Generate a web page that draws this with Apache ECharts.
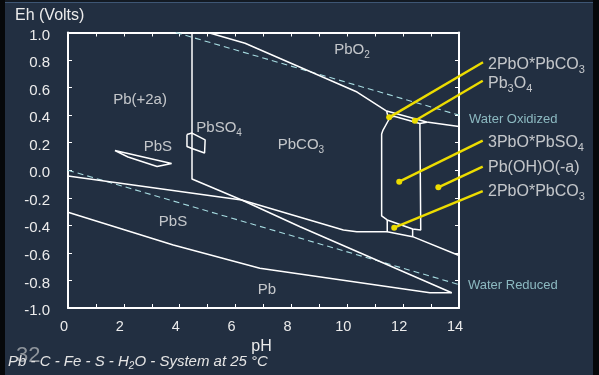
<!DOCTYPE html>
<html><head><meta charset="utf-8">
<script src="https://cdn.jsdelivr.net/npm/echarts@6/dist/echarts.min.js"></script>
<style>html,body{margin:0;padding:0;background:#222f41;}#c{width:599px;height:375px;}</style>
</head><body><div id="c"></div>
<script>
// ---- data (pH, Eh in volts) ----
const waterOxidized = [[3.86, 1.0], [14, 0.40]];
const waterReduced = [[0, 0.0], [14, -0.83]];
const boundaryPbO2 = [[5.01, 1.0], [6.34, 0.922], [10.35, 0.568], [11.41, 0.430]];
const boundaryTop = [[11.41, 0.430], [12.84, 0.350], [14, 0.318]];
const boundaryStub = [[11.41, 0.430], [11.47, 0.377]];
const boundaryPb3O4 = [[11.47, 0.377], [11.67, 0.392], [12.60, 0.339], [12.85, 0.348]];
const boundaryBox = [[11.53, 0.383], [11.28, 0.292], [11.23, 0.263], [11.23, -0.332], [11.43, -0.361], [12.34, -0.427], [12.63, -0.434], [12.60, 0.339]];
const boundaryBoxLow = [[11.43, -0.361], [11.43, -0.446], [12.34, -0.482], [14, -0.619]];
const boundaryBoxLowR = [[12.34, -0.427], [12.34, -0.482]];
const boundaryUpperPbS = [[0, -0.042], [6.22, -0.216], [9.86, -0.434], [10.34, -0.446], [11.43, -0.446]];
const boundaryCarbonate = [[4.44, 1.0], [4.44, -0.064], [6.22, -0.216], [8.31, -0.41], [13.74, -0.889]];
const boundaryPb = [[0, -0.305], [3.77, -0.543], [6.87, -0.712], [12.96, -0.889], [13.74, -0.889]];
const pbsSliver = [[1.68, 0.143], [3.71, 0.049], [3.19, 0.027], [2.15, 0.096], [1.68, 0.143]];
const pbso4Box = [[4.26, 0.260], [4.44, 0.270], [4.91, 0.220], [4.89, 0.125], [4.44, 0.158], [4.26, 0.172], [4.26, 0.260]];

const pointerFrom = [[14.86, 0.784], [14.85, 0.650], [14.85, 0.215], [14.85, 0.026], [14.85, -0.151]];
const pointerTo = [[11.50, 0.384], [12.42, 0.360], [11.86, -0.083], [13.26, -0.124], [11.68, -0.417]];

const fieldNames = ['PbO{s|2}', 'Pb(+2a)', 'PbSO{s|4}', 'PbS', 'PbCO{s|3}', 'PbS', 'Pb'];
const fieldPos = [[10.17, 0.873], [2.58, 0.51], [5.41, 0.307], [3.22, 0.169], [8.34, 0.183], [3.76, -0.376], [7.12, -0.869]];
const calloutNames = ['2PbO*PbCO{s|3}', 'Pb{s|3}O{s|4}', '3PbO*PbSO{s|4}', 'Pb(OH)O(-a)', '2PbO*PbCO{s|3}'];
const calloutPos = [[15.04, 0.764], [15.04, 0.626], [15.04, 0.198], [15.04, 0.016], [15.04, -0.158]];
const waterNames = ['Water Oxidized', 'Water Reduced'];
const waterPos = [[14.36, 0.372], [14.32, -0.833]];

const xMin = 0, xMax = 14, xStep = 1;
const yMin = -1, yMax = 1, yStep = 0.2;
const axisTitleY = 'Eh (Volts)';
const axisTitleX = 'pH';
const footer = 'Pb - C - Fe - S - H{s|2}O - System at 25 °C';
const slideNo = '32';

// ---- chart ----
const FONT = '"Liberation Sans", Arial, sans-serif';
const WHITE = '#ffffff';
const TXT = '#ececec';
const YEL = '#ecdc00';
const sub = (fs, pad) => ({ fontSize: fs, padding: [pad, 0, 0, 0], color: TXT, fontFamily: FONT });

const boundaries = [boundaryPbO2, boundaryTop, boundaryStub, boundaryPb3O4, boundaryBox, boundaryBoxLow,
  boundaryBoxLowR, boundaryUpperPbS, boundaryCarbonate, boundaryPb, pbsSliver, pbso4Box];

const series = [];
boundaries.forEach(d => series.push({
  type: 'line', data: d, symbol: 'none', silent: true, z: 3,
  lineStyle: { color: WHITE, width: 1.5 }
}));
[waterOxidized, waterReduced].forEach(d => series.push({
  type: 'line', data: d, symbol: 'none', silent: true, z: 2,
  lineStyle: { color: '#a6dbe0', width: 1.1, type: [6, 4] }
}));
series.push({
  type: 'custom', coordinateSystem: 'cartesian2d', clip: false, silent: true, z: 5,
  data: pointerFrom.map((p, i) => [p[0], p[1], pointerTo[i][0], pointerTo[i][1]]),
  encode: { x: [0, 2], y: [1, 3] },
  renderItem: (params, api) => {
    const a = api.coord([api.value(0), api.value(1)]);
    const b = api.coord([api.value(2), api.value(3)]);
    return { type: 'group', children: [
      { type: 'line', shape: { x1: a[0], y1: a[1], x2: b[0], y2: b[1] }, style: { stroke: YEL, lineWidth: 2.4 } },
      { type: 'circle', shape: { cx: b[0], cy: b[1], r: 3 }, style: { fill: YEL } }
    ] };
  }
});
series.push({
  type: 'scatter', data: fieldPos.map((p, i) => ({ value: p, name: fieldNames[i] })),
  symbolSize: 0, silent: true, z: 7,
  label: { show: true, position: 'inside', formatter: p => p.name, color: TXT, fontSize: 15, fontFamily: FONT,
    rich: { s: sub(10, 10) } }
});
series.push({
  type: 'scatter', data: calloutPos.map((p, i) => ({ value: p, name: calloutNames[i] })),
  symbolSize: 0, silent: true, clip: false, z: 7,
  label: { show: true, position: 'right', distance: 0, formatter: p => p.name, color: TXT, fontSize: 16, fontFamily: FONT,
    rich: { s: sub(11, 10) } }
});
series.push({
  type: 'scatter', data: waterPos.map((p, i) => ({ value: p, name: waterNames[i] })),
  symbolSize: 0, silent: true, clip: false, z: 7,
  label: { show: true, position: 'right', distance: 0, formatter: p => p.name, color: '#a6dbe0', fontSize: 13, fontFamily: FONT }
});

const axisCommon = {
  axisLine: { show: true, onZero: false, lineStyle: { color: WHITE, width: 2 } },
  axisTick: { show: true, inside: true, length: 4, lineStyle: { color: WHITE, width: 1 } },
  splitLine: { show: false }
};

const chart = echarts.init(document.getElementById('c'));
chart.setOption({
  animation: false,
  backgroundColor: '#222f41',
  grid: { left: 68, right: 140, top: 32.5, bottom: 67, containLabel: false },
  xAxis: [
    Object.assign({ type: 'value', min: xMin, max: xMax, interval: xStep, position: 'bottom',
      axisLabel: { formatter: v => (v % 2 === 0 ? String(v) : ''), color: TXT, fontSize: 14.5, fontFamily: FONT, margin: 11, padding: [0, 8, 0, 0] },
      name: axisTitleX, nameLocation: 'middle', nameGap: 28,
      nameTextStyle: { color: TXT, fontSize: 16, fontFamily: FONT, padding: [0, 4, 0, 0] } }, axisCommon),
    Object.assign({ type: 'value', min: xMin, max: xMax, interval: xStep, position: 'top', axisLabel: { show: false } }, axisCommon)
  ],
  yAxis: [
    Object.assign({ type: 'value', min: yMin, max: yMax, interval: yStep, position: 'left',
      axisLabel: { formatter: v => '{v|' + (Math.abs(v) < 1e-9 ? 0 : v).toFixed(1) + '}', color: TXT, fontSize: 15, fontFamily: FONT, margin: 18,
        rich: { v: { color: TXT, fontSize: 15, fontFamily: FONT, padding: [6, 0, 0, 0] } } } }, axisCommon),
    Object.assign({ type: 'value', min: yMin, max: yMax, interval: yStep, position: 'right', axisLabel: { show: false } }, axisCommon)
  ],
  series: series,
  graphic: [
    { type: 'rect', shape: { x: 0, y: 0, width: 599, height: 2 }, style: { fill: '#131a23' }, silent: true },
    { type: 'rect', shape: { x: 0, y: 2, width: 599, height: 1 }, style: { fill: '#3e5674' }, silent: true },
    { type: 'rect', shape: { x: 0, y: 0, width: 5, height: 375 }, style: { fill: '#06080a' }, silent: true },
    { type: 'rect', shape: { x: 593, y: 0, width: 6, height: 375 }, style: { fill: '#06080a' }, silent: true },
    { type: 'text', x: 15, y: 16, style: { text: axisTitleY, fill: TXT, font: '16px ' + FONT, verticalAlign: 'middle' }, silent: true },
    { type: 'text', x: 16, y: 356, style: { text: slideNo, fill: '#8e949b', font: '22px ' + FONT, verticalAlign: 'middle' }, silent: true },
    { type: 'text', x: 8, y: 362, style: { text: footer, fill: '#e4e4e4', font: 'italic 15px ' + FONT, verticalAlign: 'middle',
      rich: { s: { fontSize: 10, fontStyle: 'italic', padding: [9, 0, 0, 0], fill: '#e4e4e4', fontFamily: FONT } } }, silent: true }
  ]
});
</script></body></html>
